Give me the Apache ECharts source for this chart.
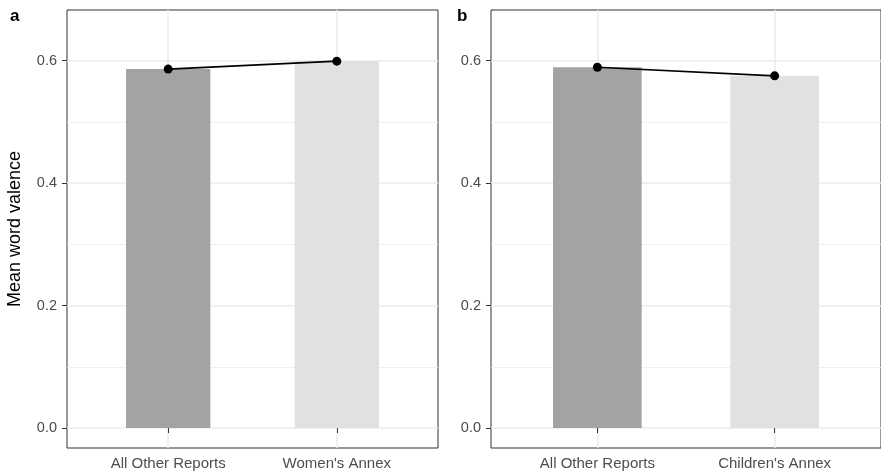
<!DOCTYPE html>
<html>
<head>
<meta charset="utf-8">
<script src="https://cdn.jsdelivr.net/npm/echarts@6/dist/echarts.min.js"></script>
<style>
  html, body { margin: 0; padding: 0; background: #ffffff; }
  #chart { width: 881px; height: 475px; }
</style>
</head>
<body>
<div id="chart"></div>
<script>
// Mean word valence: report groups compared in two panels
const categoriesA = ['All Other Reports', "Women's Annex"];
const valuesA = [0.586, 0.599];
const categoriesB = ['All Other Reports', "Children's Annex"];
const valuesB = [0.589, 0.575];
const yTicks = [0, 0.2, 0.4, 0.6];
const yMinorTicks = [0.1, 0.3, 0.5];
const xPositions = [1, 2];
const barColors = ['#a3a3a3', '#e1e1e1'];

const FONT = '"Liberation Sans", Arial, sans-serif';
const BORDER = '#333333';
const GRID_MAJOR = '#ebebeb';

const chart = echarts.init(document.getElementById('chart'), null, { renderer: 'canvas' });

function makeBarRenderer() {
  return function (params, api) {
    const x = api.value(0);
    const y = api.value(1);
    const topLeft = api.coord([x - 0.25, y]);
    const bottomRight = api.coord([x + 0.25, 0]);
    return {
      type: 'rect',
      shape: {
        x: topLeft[0],
        y: topLeft[1],
        width: bottomRight[0] - topLeft[0],
        height: bottomRight[1] - topLeft[1]
      },
      style: { fill: barColors[params.dataIndex] }
    };
  };
}

function xAxisFor(gridIndex, cats) {
  return {
    type: 'value',
    gridIndex: gridIndex,
    min: 0.4,
    max: 2.6,
    axisLine: { show: false },
    axisTick: { show: true, length: 5, customValues: xPositions, lineStyle: { color: BORDER, width: 1 } },
    axisLabel: {
      customValues: xPositions,
      margin: 8,
      color: '#4d4d4d',
      fontSize: 15,
      fontFamily: FONT,
      formatter: function (v) { return cats[Math.round(v) - 1] || ''; }
    },
    splitLine: { show: true, lineStyle: { color: GRID_MAJOR, width: 1.5 } }
  };
}

function yAxisFor(gridIndex, withName) {
  const axis = {
    type: 'value',
    gridIndex: gridIndex,
    min: -0.0325,
    max: 0.6825,
    axisLine: { show: false },
    axisTick: { show: true, length: 5, customValues: yTicks, lineStyle: { color: BORDER, width: 1 } },
    axisLabel: {
      customValues: yTicks,
      margin: 10,
      color: '#4d4d4d',
      fontSize: 14.5,
      fontFamily: FONT,
      formatter: function (v) { return v.toFixed(1); }
    },
    splitLine: { show: true, lineStyle: { color: GRID_MAJOR, width: 1.5 } }
  };
  if (withName) {
    axis.name = 'Mean word valence';
    axis.nameLocation = 'middle';
    axis.nameGap = 43;
    axis.nameTextStyle = { color: '#000000', fontSize: 18, fontFamily: FONT };
  }
  return axis;
}

function panelSeries(idx, values) {
  const pts = values.map(function (v, i) { return [xPositions[i], v]; });
  return [
    {
      // minor horizontal gridlines, kept behind the bars
      type: 'line',
      xAxisIndex: idx,
      yAxisIndex: idx,
      data: [],
      z: 0,
      silent: true,
      markLine: {
        z: 0,
        silent: true,
        symbol: 'none',
        label: { show: false },
        lineStyle: { color: GRID_MAJOR, width: 0.8, type: 'solid' },
        data: yMinorTicks.map(function (v) { return { yAxis: v }; })
      }
    },
    {
      type: 'custom',
      xAxisIndex: idx,
      yAxisIndex: idx,
      z: 2,
      renderItem: makeBarRenderer(),
      encode: { x: 0, y: 1 },
      data: pts
    },
    {
      type: 'line',
      xAxisIndex: idx,
      yAxisIndex: idx,
      z: 3,
      data: pts,
      symbol: 'circle',
      symbolSize: 9,
      showSymbol: true,
      lineStyle: { color: '#000000', width: 1.6 },
      itemStyle: { color: '#000000' },
      emphasis: { disabled: true }
    }
  ];
}

const option = {
  animation: false,
  backgroundColor: '#ffffff',
  grid: [
    { left: 67, right: 443, top: 10, bottom: 27, show: true, borderColor: BORDER, borderWidth: 1, backgroundColor: 'transparent' },
    { left: 491, right: -4, top: 10, bottom: 27, show: true, borderColor: BORDER, borderWidth: 1, backgroundColor: 'transparent' }
  ],
  xAxis: [xAxisFor(0, categoriesA), xAxisFor(1, categoriesB)],
  yAxis: [yAxisFor(0, true), yAxisFor(1, false)],
  graphic: [
    { type: 'text', left: 10, top: 8, style: { text: 'a', font: 'bold 17px ' + FONT, fill: '#000000' } },
    { type: 'text', left: 457, top: 8, style: { text: 'b', font: 'bold 17px ' + FONT, fill: '#000000' } }
  ],
  series: panelSeries(0, valuesA).concat(panelSeries(1, valuesB))
};

chart.setOption(option);
</script>
</body>
</html>
